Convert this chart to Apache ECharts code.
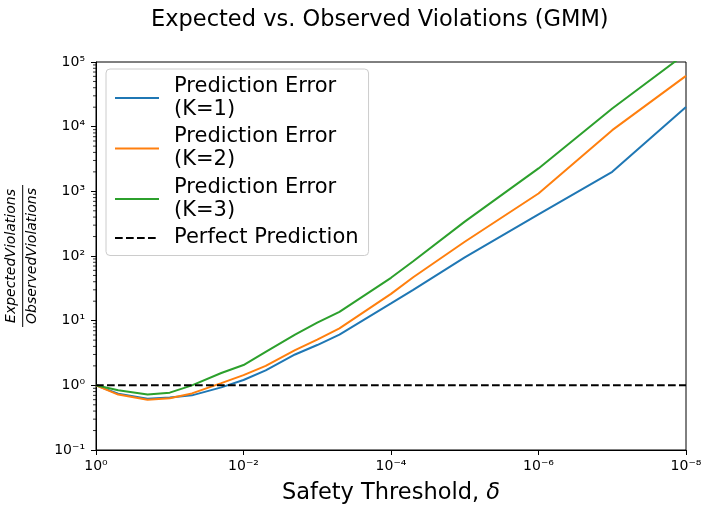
<!DOCTYPE html>
<html>
<head>
<meta charset="utf-8">
<script src="https://cdn.jsdelivr.net/npm/echarts@6/dist/echarts.min.js"></script>
<style>
html, body { margin: 0; padding: 0; background: #fff; }
#main { width: 706px; height: 505px; }
</style>
</head>
<body>
<div id="main"></div>
<script>
// data
var deltas = [1, 0.5, 0.2, 0.1, 0.05, 0.02, 0.01, 0.005, 0.002, 0.001, 5e-4, 1e-4, 5e-5, 1e-5, 1e-6, 1e-7, 1e-8];
var errK1 = [1, 0.74, 0.62, 0.65, 0.70, 0.93, 1.21, 1.70, 3.0, 4.2, 6.1, 18.5, 30, 95, 440, 2000, 20200];
var errK2 = [1, 0.72, 0.60, 0.63, 0.75, 1.08, 1.44, 2.0, 3.5, 5.1, 7.6, 26, 47, 166, 927, 8830, 61000];
var errK3 = [1, 0.84, 0.72, 0.77, 1.0, 1.55, 2.06, 3.3, 6.1, 9.3, 13.7, 46, 83, 340, 2260, 19100, 136000];
var perfectX = [1, 1e-8];
var perfectY = [1, 1];
var names = ['Prediction Error\n(K=1)', 'Prediction Error\n(K=2)', 'Prediction Error\n(K=3)', 'Perfect Prediction'];
var colors = ['#1f77b4', '#ff7f0e', '#2ca02c', '#000000'];
// minor ticks of the y axis (matplotlib style 2..9 per decade)
var minorMantissas = [2, 3, 4, 5, 6, 7, 8, 9];
var minorDecades = [-1, 0, 1, 2, 3, 4];

var FONT = 'DejaVu Sans';
var supMap = { '-': '\u207B', '0': '\u2070', '1': '\u00B9', '2': '\u00B2', '3': '\u00B3',
               '4': '\u2074', '5': '\u2075', '6': '\u2076', '7': '\u2077', '8': '\u2078', '9': '\u2079' };
function powLabel(v) {
    var e = String(Math.round(Math.log10(v)));
    return '10' + e.split('').map(function (c) { return supMap[c]; }).join('');
}
function pairs(xs, ys) {
    return xs.map(function (x, i) { return [x, ys[i]]; });
}
var minorTicks = [];
minorDecades.forEach(function (d) {
    minorMantissas.forEach(function (m) { minorTicks.push([1, m * Math.pow(10, d)]); });
});

var myChart = echarts.init(document.getElementById('main'));

var option = {
    backgroundColor: '#fff',
    animation: false,
    title: {
        text: 'Expected vs. Observed Violations (GMM)',
        left: 151,
        top: 9,
        padding: 0,
        textStyle: { fontFamily: FONT, fontSize: 22.5, fontWeight: 'normal', color: '#000' }
    },
    grid: {
        left: 96, right: 20, top: 62, bottom: 55,
        outerBoundsMode: 'none',
        containLabel: false,
        show: true, borderColor: '#000', borderWidth: 1, backgroundColor: 'transparent'
    },
    legend: {
        data: names,
        orient: 'vertical',
        left: 106,
        top: 69,
        padding: [6, 10, 6, 8],
        itemGap: 4.5,
        itemWidth: 44,
        itemHeight: 14,
        itemStyle: { opacity: 0 },
        backgroundColor: 'rgba(255,255,255,0.8)',
        borderColor: '#cccccc',
        borderWidth: 1,
        borderRadius: 4,
        textStyle: { fontFamily: FONT, fontSize: 21, color: '#000', lineHeight: 23, padding: [0, 0, 0, 10] }
    },
    xAxis: {
        type: 'log',
        logBase: 10,
        min: 1e-8,
        max: 1,
        interval: 2,
        inverse: true,
        name: 'Safety Threshold, {i|\u03B4}',
        nameLocation: 'middle',
        nameGap: 32,
        nameTextStyle: {
            fontFamily: FONT, fontSize: 22.5, color: '#000',
            rich: { i: { fontFamily: FONT, fontSize: 22.5, fontStyle: 'italic', color: '#000' } }
        },
        axisLine: { show: true, lineStyle: { color: '#000', width: 1 } },
        axisTick: { show: true, length: 5, lineStyle: { color: '#000', width: 1 } },
        axisLabel: { fontFamily: FONT, fontSize: 14, color: '#000', margin: 9, formatter: powLabel },
        splitLine: { show: false },
        minorTick: { show: false }
    },
    yAxis: {
        type: 'log',
        logBase: 10,
        min: 0.1,
        max: 1e5,
        interval: 1,
        axisLine: { show: true, lineStyle: { color: '#000', width: 1 } },
        axisTick: { show: true, length: 5, lineStyle: { color: '#000', width: 1 } },
        axisLabel: { fontFamily: FONT, fontSize: 14, color: '#000', margin: 11, padding: [5, 0, 0, 0], formatter: powLabel },
        splitLine: { show: false }
    },
    graphic: [{
        type: 'group',
        x: 22.7,
        y: 256,
        rotation: Math.PI / 2,
        children: [
            { type: 'text', x: 0, y: -4,
              style: { text: 'ExpectedViolations', font: 'italic 14px "DejaVu Sans"', fill: '#000', align: 'center', verticalAlign: 'bottom' } },
            { type: 'line', shape: { x1: -71, y1: 0, x2: 71, y2: 0 }, style: { stroke: '#000', lineWidth: 1 } },
            { type: 'text', x: 0, y: 3,
              style: { text: 'ObservedViolations', font: 'italic 14px "DejaVu Sans"', fill: '#000', align: 'center', verticalAlign: 'top' } }
        ]
    }],
    series: [
        { name: names[0], type: 'line', data: pairs(deltas, errK1), symbol: 'none', color: colors[0],
          lineStyle: { width: 2, color: colors[0] }, z: 3 },
        { name: names[1], type: 'line', data: pairs(deltas, errK2), symbol: 'none', color: colors[1],
          lineStyle: { width: 2, color: colors[1] }, z: 3 },
        { name: names[2], type: 'line', data: pairs(deltas, errK3), symbol: 'none', color: colors[2],
          lineStyle: { width: 2, color: colors[2] }, z: 3 },
        { name: names[3], type: 'line', data: pairs(perfectX, perfectY), symbol: 'none', color: colors[3],
          lineStyle: { width: 2, color: colors[3], type: [7.7, 3.3] }, z: 4 },
        {
            name: 'minorTicks', type: 'custom', silent: true, clip: false, z: 5,
            data: minorTicks,
            renderItem: function (params, api) {
                var p = api.coord([api.value(0), api.value(1)]);
                return {
                    type: 'line',
                    shape: { x1: p[0] - 3, y1: p[1], x2: p[0], y2: p[1] },
                    style: { stroke: '#000', lineWidth: 0.8 }
                };
            }
        }
    ]
};

myChart.setOption(option);
</script>
</body>
</html>
